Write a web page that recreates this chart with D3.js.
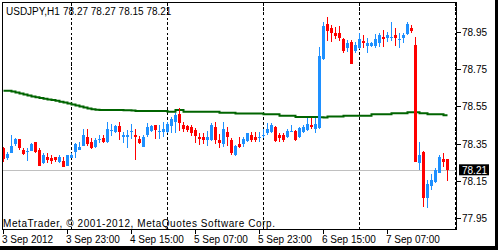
<!DOCTYPE html>
<html><head><meta charset="utf-8">
<script src="https://cdn.jsdelivr.net/npm/d3@7"></script>
<style>
html,body{margin:0;padding:0;background:#fff;overflow:hidden;}
svg{display:block;}
text{font-family:"Liberation Sans",Arial,sans-serif;font-size:10px;}
</style>
</head><body>
<svg id="c" width="498" height="250"></svg>
<script>
const symbol = "USDJPY,H1";
const opens = [
78.327,78.275,78.302,78.348,78.375,78.316,78.305,78.312,78.357,78.316,
78.245,78.277,78.275,78.277,78.253,78.259,78.232,78.273,78.304,78.318,
78.339,78.386,78.357,78.334,78.372,78.382,78.357,78.417,78.412,78.445,
78.384,78.384,78.412,78.397,78.375,78.334,78.397,78.420,78.450,78.414,
78.412,78.411,78.445,78.466,78.509,78.450,78.446,78.441,78.421,78.387,
78.387,78.372,78.370,78.441,78.370,78.346,78.414,78.370,78.289,78.348,
78.348,78.366,78.397,78.384,78.384,78.395,78.406,78.414,78.441,78.397,
78.397,78.384,78.417,78.420,78.384,78.414,78.423,78.450,78.427,78.434,
78.804,78.991,78.968,78.942,78.942,78.909,78.861,78.897,78.848,78.861,
78.902,78.875,78.875,78.875,78.891,78.923,78.918,78.918,78.932,78.908,
78.918,78.938,78.968,78.879,78.248,78.307,78.057,78.123,78.146,78.194,
78.268,78.27];
const highs = [
78.332,78.305,78.397,78.383,78.377,78.327,78.327,78.355,78.359,78.328,
78.302,78.298,78.289,78.280,78.289,78.277,78.289,78.300,78.355,78.361,
78.429,78.429,78.380,78.379,78.397,78.397,78.468,78.454,78.450,78.466,
78.414,78.423,78.455,78.427,78.391,78.397,78.459,78.450,78.452,78.450,
78.468,78.468,78.495,78.516,78.540,78.468,78.450,78.450,78.432,78.409,
78.407,78.420,78.459,78.465,78.402,78.468,78.441,78.379,78.343,78.384,
78.384,78.406,78.414,78.414,78.414,78.427,78.459,78.459,78.446,78.406,
78.406,78.427,78.450,78.423,78.441,78.450,78.486,78.486,78.486,78.867,
79.004,79.030,78.986,78.977,78.981,78.915,78.906,78.906,78.897,78.942,
78.932,78.915,78.893,78.938,78.942,78.959,78.950,79.004,78.968,78.942,
78.945,79.004,78.986,78.920,78.361,78.309,78.155,78.188,78.218,78.289,
78.298,78.27];
const lows = [
78.252,78.263,78.300,78.338,78.316,78.289,78.257,78.311,78.302,78.230,
78.240,78.248,78.241,78.250,78.245,78.223,78.230,78.271,78.272,78.316,
78.338,78.339,78.322,78.328,78.352,78.352,78.355,78.393,78.407,78.372,
78.355,78.325,78.373,78.265,78.348,78.330,78.387,78.412,78.373,78.373,
78.388,78.406,78.406,78.406,78.418,78.414,78.414,78.391,78.354,78.343,
78.347,78.335,78.366,78.348,78.325,78.334,78.336,78.289,78.284,78.325,
78.334,78.361,78.361,78.361,78.361,78.379,78.397,78.406,78.361,78.361,
78.361,78.379,78.412,78.366,78.379,78.406,78.420,78.427,78.409,78.429,
78.798,78.902,78.897,78.909,78.902,78.838,78.843,78.775,78.834,78.856,
78.861,78.838,78.870,78.861,78.870,78.870,78.897,78.902,78.873,78.861,
78.891,78.932,78.942,78.252,78.209,78.012,78.004,78.102,78.139,78.191,
78.224,78.15];
const closes = [
78.268,78.295,78.338,78.375,78.327,78.295,78.308,78.347,78.304,78.232,
78.289,78.263,78.259,78.263,78.280,78.224,78.289,78.289,78.350,78.334,
78.397,78.347,78.325,78.370,78.375,78.361,78.429,78.423,78.447,78.412,
78.397,78.397,78.420,78.384,78.356,78.387,78.438,78.445,78.423,78.420,
78.429,78.457,78.484,78.504,78.462,78.431,78.423,78.405,78.393,78.373,
78.372,78.388,78.450,78.370,78.352,78.427,78.384,78.302,78.338,78.334,
78.373,78.405,78.370,78.370,78.387,78.397,78.427,78.450,78.366,78.379,
78.370,78.420,78.420,78.370,78.432,78.441,78.455,78.438,78.455,78.820,
78.981,78.955,78.945,78.927,78.915,78.848,78.891,78.777,78.879,78.909,
78.888,78.891,78.891,78.909,78.932,78.909,78.932,78.920,78.918,78.909,
78.932,78.991,78.954,78.253,78.289,78.057,78.134,78.155,78.209,78.277,
78.253,78.21];
const maValues = [
78.634,78.634,78.630,78.624,78.619,78.614,78.608,78.603,78.599,78.595,
78.591,78.587,78.584,78.580,78.575,78.571,78.565,78.560,78.555,78.549,
78.544,78.539,78.534,78.532,78.531,78.531,78.531,78.531,78.531,78.531,
78.529,78.529,78.528,78.525,78.525,78.525,78.525,78.525,78.525,78.525,
78.525,78.521,78.521,78.531,78.531,78.521,78.521,78.521,78.521,78.521,
78.521,78.521,78.521,78.521,78.516,78.516,78.516,78.516,78.511,78.511,
78.511,78.511,78.511,78.511,78.511,78.507,78.507,78.507,78.507,78.500,
78.500,78.500,78.500,78.493,78.493,78.493,78.493,78.493,78.493,78.491,
78.490,78.495,78.495,78.495,78.495,78.500,78.500,78.500,78.500,78.500,
78.500,78.500,78.507,78.507,78.507,78.507,78.507,78.513,78.513,78.513,
78.513,78.518,78.518,78.518,78.513,78.513,78.507,78.507,78.507,78.507,
78.502,78.502];
const priceTicks = [78.95, 78.75, 78.55, 78.35, 78.15, 77.95];
const timeLabels = ["3 Sep 2012","3 Sep 23:00","4 Sep 15:00","5 Sep 07:00","5 Sep 23:00","6 Sep 15:00","7 Sep 07:00"];
const timeLabelBars = [0, 16, 32, 48, 64, 80, 96];
const gridBars = [17, 41, 65, 89, 113];
const bidPrice = 78.21;
const copyright = "MetaTrader, \u00A9 2001-2012, MetaQuotes Software Corp.";

const bull = "#1E90FF", bear = "#FF0000";
const svg = d3.select("#c");
const n = closes.length;
const x = d3.scaleLinear().domain([0, n - 1]).range([3.5, 447.5]);
const y = d3.scaleLinear().domain([77.95, 78.95]).range([218.3, 31.7]);
const L = 2.5, T = 2.5, R = 456.5, B = 229.5;

svg.append("rect").attr("width", 498).attr("height", 250).attr("fill", "#fff");

// grid
svg.append("g").attr("shape-rendering", "crispEdges").selectAll("line").data(gridBars).join("line")
  .attr("x1", d => x(d)).attr("x2", d => x(d)).attr("y1", T).attr("y2", B)
  .attr("stroke", "#000").attr("stroke-width", 1).attr("stroke-dasharray", "3,2");

// bid line
svg.append("line").attr("shape-rendering", "crispEdges")
  .attr("x1", L).attr("x2", R).attr("y1", Math.round(y(bidPrice)) + 0.5).attr("y2", Math.round(y(bidPrice)) + 0.5)
  .attr("stroke", "#C0C0C0").attr("stroke-width", 1);

// moving average
const ma = d3.line().x((d, i) => x(i)).y(d => y(d)).curve(d3.curveStepAfter);
svg.append("path").datum(maValues).attr("d", ma).attr("fill", "none")
  .attr("stroke", "#006400").attr("stroke-width", 2);

// candles
const idx = d3.range(n);
const cg = svg.append("g").attr("shape-rendering", "crispEdges");
cg.selectAll("line").data(idx).join("line")
  .attr("x1", i => x(i)).attr("x2", i => x(i))
  .attr("y1", i => y(highs[i])).attr("y2", i => y(lows[i]))
  .attr("stroke", i => closes[i] >= opens[i] ? bull : bear).attr("stroke-width", 1);
cg.selectAll("rect").data(idx).join("rect")
  .attr("x", i => x(i) - 1.5).attr("width", 3)
  .attr("y", i => y(Math.max(opens[i], closes[i])))
  .attr("height", i => Math.max(1, Math.abs(y(opens[i]) - y(closes[i]))))
  .attr("fill", i => closes[i] >= opens[i] ? bull : bear);

// frame
svg.append("rect").attr("shape-rendering", "crispEdges")
  .attr("x", L).attr("y", T).attr("width", R - L).attr("height", B - T)
  .attr("fill", "none").attr("stroke", "#000").attr("stroke-width", 1);

// right axis
const ra = svg.append("g");
ra.selectAll("line").data(priceTicks).join("line").attr("shape-rendering", "crispEdges")
  .attr("x1", R).attr("x2", R + 4).attr("y1", d => Math.round(y(d)) + 0.5).attr("y2", d => Math.round(y(d)) + 0.5)
  .attr("stroke", "#000");
ra.selectAll("text").data(priceTicks).join("text")
  .attr("x", 462).attr("y", d => y(d) + 4).text(d => d.toFixed(2));

// bid label
svg.append("rect").attr("x", 459).attr("y", y(bidPrice) - 5.5).attr("width", 30).attr("height", 11).attr("fill", "#000");
svg.append("text").attr("x", 462).attr("y", y(bidPrice) + 4).attr("fill", "#fff").text(bidPrice.toFixed(2));

// bottom axis
const ba = svg.append("g");
ba.selectAll("line").data(timeLabelBars).join("line").attr("shape-rendering", "crispEdges")
  .attr("x1", d => x(d)).attr("x2", d => x(d)).attr("y1", B).attr("y2", B + 4).attr("stroke", "#000");
ba.selectAll("text").data(timeLabels).join("text")
  .attr("x", (d, i) => x(timeLabelBars[i]) - 1.5).attr("y", 243).text(d => d);

// header
const last = n - 1;
svg.append("text").attr("x", 6).attr("y", 15).text(symbol);
svg.append("text").attr("x", 63).attr("y", 15)
  .text([opens[last], highs[last], lows[last], closes[last]].map(v => v.toFixed(2)).join(" "));

// copyright
svg.append("text").attr("x", 3).attr("y", 227).attr("textLength", 272).attr("lengthAdjust", "spacing").text(copyright);

// window bezel
svg.append("rect").attr("x", 495).attr("y", 0).attr("width", 3).attr("height", 250).attr("fill", "#000");
svg.append("rect").attr("x", 0).attr("y", 246).attr("width", 498).attr("height", 4).attr("fill", "#000");
</script>
</body></html>
